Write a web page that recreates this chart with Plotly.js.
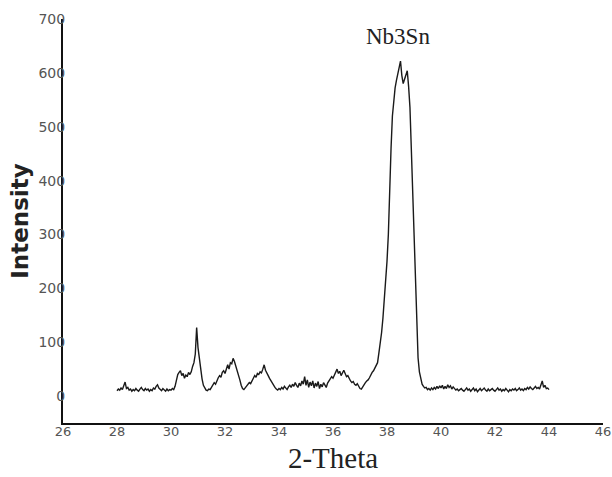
<!DOCTYPE html>
<html>
<head>
<meta charset="utf-8">
<script src="https://cdn.plot.ly/plotly-3.0.1.min.js"></script>
<style>html,body{margin:0;padding:0;background:#fff;}#chart{width:612px;height:477px;}</style>
</head>
<body>
<div id="chart"></div>
<script>
// 2-Theta (degrees)
const twoTheta = [
28.00,28.05,28.10,28.15,28.20,28.25,28.30,28.35,28.40,28.45,28.50,28.55,28.60,28.65,28.70,28.75,28.80,28.85,28.90,28.95,
29.00,29.05,29.10,29.15,29.20,29.25,29.30,29.35,29.40,29.45,29.50,29.55,29.60,29.65,29.70,29.75,29.80,29.85,29.90,29.95,
30.00,30.05,30.10,30.15,30.20,30.25,30.30,30.35,30.40,30.45,30.50,30.55,30.60,30.65,30.70,30.75,30.80,30.85,30.90,30.95,
31.00,31.05,31.10,31.15,31.20,31.25,31.30,31.35,31.40,31.45,31.50,31.55,31.60,31.65,31.70,31.75,31.80,31.85,31.90,31.95,
32.00,32.05,32.10,32.15,32.20,32.25,32.30,32.35,32.40,32.45,32.50,32.55,32.60,32.65,32.70,32.75,32.80,32.85,32.90,32.95,
33.00,33.05,33.10,33.15,33.20,33.25,33.30,33.35,33.40,33.45,33.50,33.55,33.60,33.65,33.70,33.75,33.80,33.85,33.90,33.95,
34.00,34.05,34.10,34.15,34.20,34.25,34.30,34.35,34.40,34.45,34.50,34.55,34.60,34.65,34.70,34.75,34.80,34.85,34.90,34.95,
35.00,35.05,35.10,35.15,35.20,35.25,35.30,35.35,35.40,35.45,35.50,35.55,35.60,35.65,35.70,35.75,35.80,35.85,35.90,35.95,
36.00,36.05,36.10,36.15,36.20,36.25,36.30,36.35,36.40,36.45,36.50,36.55,36.60,36.65,36.70,36.75,36.80,36.85,36.90,36.95,
37.00,37.05,37.10,37.15,37.20,37.25,37.30,37.35,37.40,37.45,37.50,37.55,37.60,37.65,37.70,37.75,37.80,37.85,37.90,37.95,
38.00,38.05,38.10,38.15,38.20,38.25,38.30,38.35,38.40,38.45,38.50,38.55,38.60,38.65,38.70,38.75,38.80,38.85,38.90,38.95,
39.00,39.05,39.10,39.15,39.20,39.25,39.30,39.35,39.40,39.45,39.50,39.55,39.60,39.65,39.70,39.75,39.80,39.85,39.90,39.95,
40.00,40.05,40.10,40.15,40.20,40.25,40.30,40.35,40.40,40.45,40.50,40.55,40.60,40.65,40.70,40.75,40.80,40.85,40.90,40.95,
41.00,41.05,41.10,41.15,41.20,41.25,41.30,41.35,41.40,41.45,41.50,41.55,41.60,41.65,41.70,41.75,41.80,41.85,41.90,41.95,
42.00,42.05,42.10,42.15,42.20,42.25,42.30,42.35,42.40,42.45,42.50,42.55,42.60,42.65,42.70,42.75,42.80,42.85,42.90,42.95,
43.00,43.05,43.10,43.15,43.20,43.25,43.30,43.35,43.40,43.45,43.50,43.55,43.60,43.65,43.70,43.75,43.80,43.85,43.90,43.95,
44.00
];
// Intensity (counts)
const intensity = [
10,13,11,15,12,18,26,14,16,11,13,9,12,10,14,11,9,13,16,12,
10,14,11,13,9,12,10,15,13,18,21,15,12,10,14,11,9,13,10,12,
11,14,12,18,28,40,44,47,38,42,33,39,36,44,40,45,55,62,78,127,
90,70,48,32,20,14,11,10,13,12,16,20,25,22,30,34,38,35,44,47,
42,52,58,50,62,60,70,64,56,50,38,30,20,14,12,15,18,22,25,23,
30,33,38,35,42,40,45,43,50,58,48,44,38,33,28,24,20,16,13,11,
14,12,16,13,18,15,12,17,20,16,22,18,25,20,16,24,19,28,22,36,
20,30,16,26,19,28,15,24,18,27,14,22,17,25,20,16,24,28,32,36,
33,40,45,50,42,46,38,44,48,42,36,38,31,28,25,27,22,20,23,17,
14,13,18,22,25,28,30,34,40,44,47,52,55,62,80,98,118,145,175,210,
250,300,395,460,520,550,572,586,598,610,622,595,580,588,596,604,575,536,460,380,
289,195,115,71,45,30,22,18,15,16,12,14,11,15,12,16,13,18,14,19,
15,20,13,18,14,21,16,19,13,17,14,11,13,10,12,14,11,9,12,15,
11,13,9,12,15,10,13,8,11,14,10,12,15,11,9,13,10,12,14,11,
9,12,15,11,13,9,12,10,14,11,8,12,10,13,11,14,10,12,15,11,
13,10,14,12,16,13,17,14,12,15,18,14,16,13,19,28,16,20,14,15,
12
];
const xTicks = [26,28,30,32,34,36,38,40,42,44,46];
const yTicks = [0,100,200,300,400,500,600,700];
const peakLabel = "Nb3Sn";
const peakLabelPos = [38.4, 668];

const trace = {
  x: twoTheta, y: intensity, type: 'scatter', mode: 'lines',
  line: {color: '#1a1a1a', width: 1.4}, hoverinfo: 'skip'
};
const layout = {
  width: 612, height: 477,
  margin: {l: 63, r: 9, t: 19, b: 54},
  paper_bgcolor: '#fff', plot_bgcolor: '#fff',
  showlegend: false,
  xaxis: {
    range: [26, 46], tickvals: xTicks, ticktext: xTicks.map(String),
    showgrid: false, zeroline: false, showline: true, linecolor: '#111', linewidth: 2,
    ticks: '', ticklabelstandoff: -5, tickfont: {family: 'DejaVu Sans, Verdana', size: 13, color: '#555'},
    title: {text: '2-Theta', font: {family: 'Liberation Serif, Times New Roman', size: 29, color: '#222'}, standoff: 10}
  },
  yaxis: {
    range: [-50, 700], tickvals: yTicks, ticktext: yTicks.map(String),
    showgrid: false, zeroline: false, showline: true, linecolor: '#111', linewidth: 2,
    ticks: '', ticklabelstandoff: -7, tickfont: {family: 'DejaVu Sans, Verdana', size: 14, color: '#555'},
    title: {text: 'Intensity', font: {family: 'DejaVu Sans, Arial', size: 23, color: '#222', weight: 'bold'}, standoff: 3}
  },
  annotations: [{
    x: peakLabelPos[0], y: peakLabelPos[1], xref: 'x', yref: 'y', text: peakLabel, showarrow: false,
    font: {family: 'Liberation Serif, Times New Roman', size: 23, color: '#222'}
  }]
};
Plotly.newPlot('chart', [trace], layout, {displayModeBar: false, staticPlot: true});
</script>
</body>
</html>
